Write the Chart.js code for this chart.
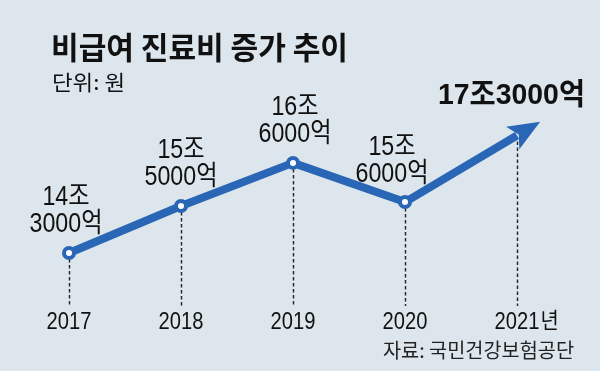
<!DOCTYPE html>
<html>
<head>
<meta charset="utf-8">
<script src="https://cdn.jsdelivr.net/npm/chart.js@4.4.1/dist/chart.umd.min.js"></script>
<style>
  html, body { margin: 0; padding: 0; background: #dce6ec; }
  #wrap { position: relative; width: 600px; height: 371px; }
</style>
</head>
<body>
<div id="wrap"><canvas id="costChart" width="600" height="371"></canvas></div>
<script>
// 비급여 진료비 (조 원)
const years = ['2017', '2018', '2019', '2020', '2021'];
const costs = [14.3, 15.5, 16.6, 15.6, 17.3];
const costLabels = [['14조', '3000억'], ['15조', '5000억'], ['16조', '6000억'], ['15조', '6000억'], ['17조3000억']];

const BLUE = '#2a66b6';
const INK = '#111111';
const NUM_FONT = "'Liberation Sans', 'Noto Sans CJK KR', sans-serif";
const KR_FONT = "'Noto Sans CJK KR', sans-serif";

// draw text squeezed horizontally by sx
function squeezeText(ctx, text, x, y, font, sx, align) {
  ctx.save();
  ctx.font = font;
  ctx.textBaseline = 'middle';
  ctx.textAlign = 'left';
  const w = ctx.measureText(text).width * sx;
  let left = x;
  if (align === 'center') left = x - w / 2;
  if (align === 'right') left = x - w;
  ctx.translate(left, y);
  ctx.scale(sx, 1);
  ctx.fillText(text, 0, 0);
  ctx.restore();
  return w;
}

// draw text stretched to fit between x0 and x1
function fitText(ctx, text, x0, x1, y, font) {
  ctx.save();
  ctx.font = font;
  const sx = (x1 - x0) / ctx.measureText(text).width;
  ctx.restore();
  squeezeText(ctx, text, x0, y, font, sx, 'left');
}

const decorPlugin = {
  id: 'decor',
  beforeDatasetsDraw(chart) {
    const ctx = chart.ctx;
    const meta = chart.getDatasetMeta(0);
    const xScale = chart.scales.x;
    ctx.save();
    ctx.strokeStyle = '#222';
    ctx.lineWidth = 1.4;
    ctx.setLineDash([3.5, 2.5]);
    meta.data.forEach((pt, i) => {
      const top = i === meta.data.length - 1 ? pt.y + 6 : pt.y;
      ctx.beginPath();
      ctx.moveTo(Math.round(pt.x) + 0.5, top);
      ctx.lineTo(Math.round(pt.x) + 0.5, 306);
      ctx.stroke();
    });
    ctx.restore();

    // year labels under the axis
    ctx.save();
    ctx.fillStyle = INK;
    years.forEach((y, i) => {
      const x = xScale.getPixelForValue(i);
      const w = squeezeText(ctx, y, x, 322, '24px ' + NUM_FONT, 0.84, 'center');
      if (i === years.length - 1) {
        squeezeText(ctx, '년', x + w / 2 + 1, 320, '22px ' + KR_FONT, 0.9, 'left');
      }
    });
    ctx.restore();
  },
  afterDatasetsDraw(chart) {
    const ctx = chart.ctx;
    const pts = chart.getDatasetMeta(0).data;
    const n = pts.length;
    const p = pts[n - 1], q = pts[n - 2];
    let ux = p.x - q.x, uy = p.y - q.y;
    const len = Math.hypot(ux, uy);
    ux /= len; uy /= len;
    const nx = -uy, ny = ux;
    ctx.save();
    ctx.fillStyle = BLUE;
    ctx.beginPath();
    ctx.moveTo(p.x + ux * 27, p.y + uy * 27);
    ctx.lineTo(p.x - ux * 5 + nx * 13, p.y - uy * 5 + ny * 13);
    ctx.lineTo(p.x + ux * 2, p.y + uy * 2);
    ctx.lineTo(p.x - ux * 5 - nx * 13, p.y - uy * 5 - ny * 13);
    ctx.closePath();
    ctx.fill();
    ctx.restore();

    // value labels
    ctx.save();
    ctx.fillStyle = INK;
    const dx = [-3, 0, 2, -13];
    pts.forEach((pt, i) => {
      const lines = costLabels[i];
      if (i === n - 1) {
        fitText(ctx, lines[0], 438, 585, 96, 'bold 30px ' + NUM_FONT);
        return;
      }
      squeezeText(ctx, lines[0], pt.x + dx[i], pt.y - 55, '27px ' + NUM_FONT, 0.86, 'center');
      squeezeText(ctx, lines[1], pt.x + dx[i], pt.y - 28, '27px ' + NUM_FONT, 0.86, 'center');
    });
    ctx.restore();

    // title, unit, source
    ctx.save();
    ctx.fillStyle = INK;
    fitText(ctx, '비급여 진료비 증가 추이', 51, 348, 47, 'bold 31px ' + KR_FONT);
    fitText(ctx, '단위: 원', 52, 125, 82, '21px ' + KR_FONT);
    ctx.fillStyle = '#222';
    fitText(ctx, '자료: 국민건강보험공단', 383, 574, 350, '20px ' + KR_FONT);
    ctx.restore();
  }
};

new Chart(document.getElementById('costChart'), {
  type: 'line',
  data: {
    labels: years,
    datasets: [{
      data: costs,
      borderColor: BLUE,
      borderWidth: 8,
      borderJoinStyle: 'round',
      tension: 0,
      pointRadius: [5, 5, 5, 5, 0],
      pointHoverRadius: 0,
      pointBackgroundColor: '#ffffff',
      pointBorderColor: BLUE,
      pointBorderWidth: 4,
      clip: false
    }]
  },
  options: {
    responsive: false,
    animation: false,
    events: [],
    layout: { padding: { left: 69, right: 83, top: 108, bottom: 67 } },
    plugins: { legend: { display: false }, tooltip: { enabled: false } },
    scales: {
      x: { display: false, offset: false },
      y: { display: false, min: 13, max: 18 }
    }
  },
  plugins: [decorPlugin]
});
</script>
</body>
</html>
